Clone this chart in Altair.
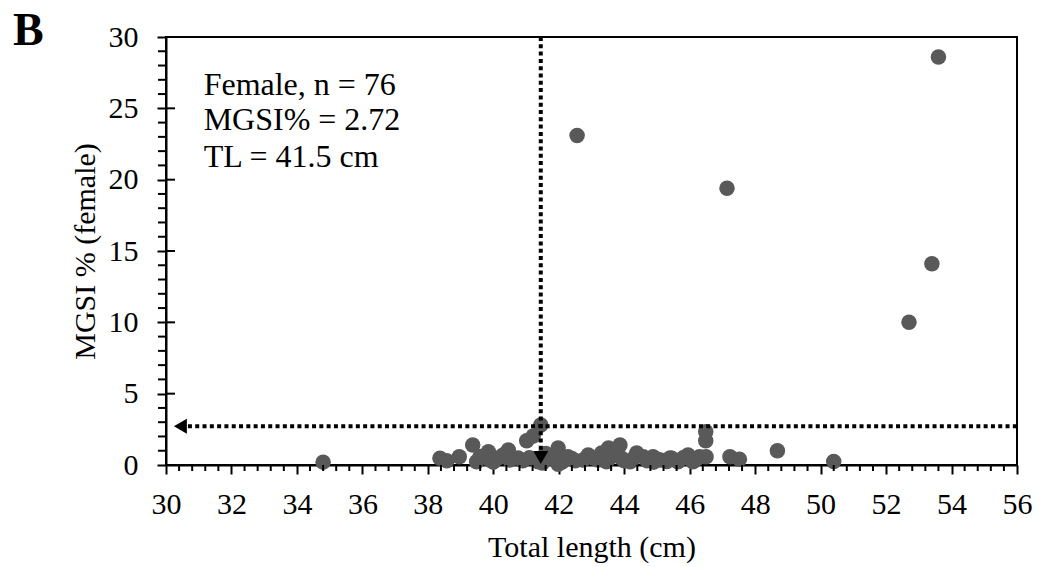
import altair as alt
import pandas as pd

# Total length (cm) and MGSI % of female fish
tl = [34.8,
      38.37, 38.58, 38.96, 39.37, 39.49, 39.85, 39.90, 40.14, 40.46, 40.50,
      40.76, 41.02, 41.22, 41.45, 41.37,
      41.50, 41.73, 41.98, 41.98, 42.28, 42.74, 43.05, 43.31, 43.52, 43.46,
      43.61, 43.87, 43.92, 44.18, 44.38, 44.58, 44.88, 45.10, 45.40,
      45.45, 45.64, 45.95, 46.10, 46.30, 46.50, 46.49, 46.49, 47.23, 47.52, 48.68,
      50.40,
      42.56, 47.14, 52.70, 53.40, 53.60,
      40.00, 40.30, 40.90, 41.10, 41.60, 42.10, 42.50, 42.90, 43.20, 43.70,
      44.00, 44.30, 44.70, 45.00, 45.30, 45.80, 46.20, 43.40, 42.40, 44.90,
      39.60, 41.90]
mgsi = [0.20,
        0.47, 0.30, 0.58, 1.40, 0.23, 0.93, 0.35, 0.49, 1.05, 0.35,
        0.49, 1.70, 2.03, 2.80, 0.23,
        0.14, 0.49, 1.19, 0.05, 0.58, 0.35, 0.49, 0.84, 1.19, 0.23,
        0.58, 1.40, 0.47, 0.23, 0.84, 0.58, 0.58, 0.35, 0.49,
        0.47, 0.23, 0.70, 0.23, 0.58, 0.58, 2.33, 1.70, 0.58, 0.40, 1.00,
        0.25,
        23.1, 19.4, 10.0, 14.1, 28.6,
        0.20, 0.70, 0.30, 0.50, 0.80, 0.20, 0.30, 0.70, 0.35, 0.90,
        0.30, 0.50, 0.30, 0.40, 0.25, 0.50, 0.40, 0.50, 0.45, 0.20,
        0.60, 0.40]

x_major = list(range(30, 57, 2))
x_minor = [round(30 + 0.4 * i, 1) for i in range(66) if i % 5 != 0]
y_major = [0, 5, 10, 15, 20, 25, 30]
y_inner = [5, 10, 15, 20, 25]
y_minor = [v for v in range(1, 30) if v % 5 != 0]

mgsi_cut = 2.72
tl_cut = 41.45

ann_text = ["Female,  n = 76", "MGSI% = 2.72", "TL = 41.5 cm"]
ann_x = [31.15, 31.15, 31.15]
ann_y = [25.94, 23.5, 20.9]

FONT = "Liberation Serif"

df = pd.DataFrame({"tl": tl, "mgsi": mgsi})
xs = alt.Scale(domain=[30, 56], nice=False, zero=False)
ys = alt.Scale(domain=[0, 30], nice=False)

XAX = alt.Axis(values=x_major, grid=False, tickSize=9, tickWidth=2,
               tickColor="black", domainColor="black", domainWidth=2,
               labelFont=FONT, labelFontSize=30, labelColor="black",
               labelPadding=15, titleFont=FONT, titleFontSize=30,
               titleFontWeight="normal", titleColor="black",
               titlePadding=13, labelFlush=False, title="Total length (cm)")
YAX = alt.Axis(values=y_major, grid=False, tickSize=9, tickWidth=2,
               tickColor="black", domainColor="black", domainWidth=2,
               labelFont=FONT, labelFontSize=30, labelColor="black",
               labelPadding=19, titleFont=FONT, titleFontSize=30,
               titleFontWeight="normal", titleColor="black",
               titlePadding=8, labelFlush=False, title="MGSI % (female)")


def X(f):
    return alt.X(f, scale=xs, axis=XAX, title="Total length (cm)")


def Y(f):
    return alt.Y(f, scale=ys, axis=YAX, title="MGSI % (female)")


points = alt.Chart(df).mark_circle(size=240, color="#595959", opacity=1).encode(
    x=X("tl:Q"), y=Y("mgsi:Q"))

xminor = alt.Chart(pd.DataFrame({"v": x_minor})).mark_rule(color="black", strokeWidth=2).encode(
    x=X("v:Q"), y=alt.value(428), y2=alt.value(434))
yminor = alt.Chart(pd.DataFrame({"v": y_minor})).mark_rule(color="black", strokeWidth=2).encode(
    y=Y("v:Q"), x=alt.value(-8), x2=alt.value(0))
yinner = alt.Chart(pd.DataFrame({"v": y_inner})).mark_rule(color="black", strokeWidth=2).encode(
    y=Y("v:Q"), x=alt.value(0), x2=alt.value(9))

hline = alt.Chart(pd.DataFrame({"x1": [30.67], "x2": [56], "y": [mgsi_cut]})).mark_rule(
    color="black", strokeWidth=4, strokeDash=[4, 3.3], strokeCap="butt").encode(
    x=X("x1:Q"), x2="x2:Q", y=Y("y:Q"))
vline = alt.Chart(pd.DataFrame({"x": [tl_cut], "y1": [30], "y2": [1.05]})).mark_rule(
    color="black", strokeWidth=4, strokeDash=[4, 3.3], strokeCap="butt").encode(
    x=X("x:Q"), y=Y("y1:Q"), y2="y2:Q")
arrow_l = alt.Chart(pd.DataFrame({"x": [30.44], "y": [mgsi_cut]})).mark_point(
    shape="triangle-left", filled=True, size=225, color="black", opacity=1).encode(
    x=X("x:Q"), y=Y("y:Q"))
arrow_d = alt.Chart(pd.DataFrame({"x": [tl_cut], "y": [0.53]})).mark_point(
    shape="triangle-down", filled=True, size=225, color="black", opacity=1).encode(
    x=X("x:Q"), y=Y("y:Q"))

ann = alt.Chart(pd.DataFrame({"t": ann_text, "x": ann_x, "y": ann_y})).mark_text(
    font=FONT, fontSize=32, align="left", baseline="alphabetic", color="black").encode(
    x=X("x:Q"), y=Y("y:Q"), text="t:N")

panel = alt.Chart(pd.DataFrame({"t": ["B"]})).mark_text(
    font=FONT, fontSize=46, fontWeight="bold", align="left", baseline="alphabetic",
    color="black").encode(x=alt.value(-153), y=alt.value(8), text="t:N")

chart = alt.layer(points, xminor, yminor, yinner, hline, vline, arrow_l, arrow_d, ann, panel).properties(
    width=851, height=428,
    autosize=alt.AutoSizeParams(type="none"),
    padding={"left": 158, "top": 29, "right": 18, "bottom": 100},
).configure_view(stroke="black", strokeWidth=2)

chart.save("out.html", embed_options={"renderer": "svg", "actions": False})
